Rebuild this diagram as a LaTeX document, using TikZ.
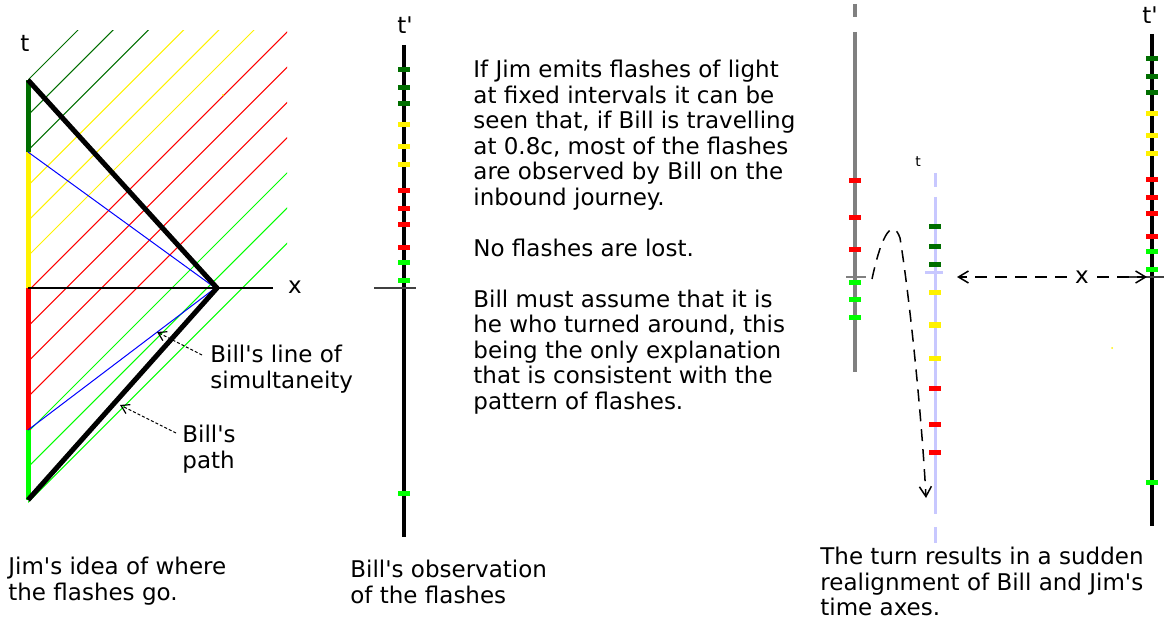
\documentclass[tikz,border=0pt]{standalone}
\usepackage{fontspec}
\usetikzlibrary{arrows.meta}
\setmainfont{DejaVu Sans}[Ligatures=TeXOff]
\definecolor{dkgreen}{RGB}{0,110,0}
\definecolor{ltgreen}{RGB}{0,255,0}
\definecolor{axgray}{RGB}{128,128,128}
\definecolor{axblue}{RGB}{200,200,255}

\begin{document}
\begin{tikzpicture}[x=0.5pt,y=-0.5pt,
    txt/.style={inner sep=0pt, align=left, anchor=north west},
    lbl/.style={inner sep=0pt},
    ptr/.style={-{Straight Barb[length=4pt,width=5pt,line width=0.6pt]}, line width=0.5pt, dash pattern=on 1.5pt off 1pt},
    longdash/.style={-{Straight Barb[length=5pt,width=6pt]}, line width=0.75pt, dash pattern=on 6pt off 4pt},
    flash/.style={line width=2.5pt},
    font=\fontsize{11.5}{12.75}\selectfont]
  \useasboundingbox (0,0) rectangle (1176,630);

  % Jim's idea of where the flashes go
  \begin{scope}
    \clip (28,31) rectangle (287,505);
    \foreach \k/\c in {0/dkgreen,1/dkgreen,2/dkgreen,3/yellow,4/yellow,5/yellow,
                       6/red,7/red,8/red,9/red,10/ltgreen,11/ltgreen,12/ltgreen}
      \draw[\c, line width=0.5pt] (28,80+35.2*\k) -- ++(520,-520);
  \end{scope}
  \fill[yellow] (223,95) circle (1);
  \draw[dkgreen, line width=2.5pt] (28,80) -- (28,152);
  \draw[yellow, line width=2.5pt] (28,152) -- (28,288);
  \draw[red, line width=2.5pt] (28,288) -- (28,430);
  \draw[ltgreen, line width=2.5pt] (28,430) -- (28,500);
  \draw[line width=0.75pt] (28,288) -- (273,288);
  \draw[blue, line width=0.5pt] (28,152) -- (214,287);
  \draw[blue, line width=0.5pt] (28,430) -- (214,289);
  \draw[line width=2.5pt, line join=round] (28,80) -- (217,288) -- (28,500);
  \node[lbl] (tjim) at (25,43) {t};
  \node[lbl] (xjim) at (295,287) {x};
  \node[txt] (simlab) at (210,345) {Bill's line of\\simultaneity};
  \node[txt] (pathlab) at (182,425) {Bill's\\path};
  \coordinate (simtip) at (157,332);
  \coordinate (pathtip) at (120,405);
  \draw[ptr] ([xshift=-4pt,yshift=-5pt]simlab.north west) -- (simtip);
  \draw[ptr] ([xshift=-3pt,yshift=-4pt]pathlab.north west) -- (pathtip);
  \node[txt] (capjim) at (8,557) {Jim's idea of where\\the flashes go.};

  % Bill's observation
  \draw[line width=2pt] (404,45) -- (404,537);
  \draw[darkgray, line width=1pt] (374,288) -- (416,288);
  \foreach \y/\c in {70/dkgreen,88/dkgreen,104/dkgreen,125/yellow,147/yellow,165/yellow,
                     191/red,209/red,225/red,248/red,263/ltgreen,281/ltgreen,493/ltgreen}
    \draw[\c, flash] (398,\y) -- (410,\y);
  \node[lbl] (tbill) at (405,25) {t'};
  \node[txt] (capbill) at (350,560) {Bill's observation\\of the flashes};

  \node[txt] (story) at (473,60) {If Jim emits flashes of light\\
    at fixed intervals it can be\\
    seen that, if Bill is travelling\\
    at 0.8c, most of the flashes\\
    are observed by Bill on the\\
    inbound journey.\\[12.75pt]
    No flashes are lost.\\[12.75pt]
    Bill must assume that it is\\
    he who turned around, this\\
    being the only explanation\\
    that is consistent with the\\
    pattern of flashes.};

  % the turn
  \draw[axgray, line width=2pt] (855,4) -- (855,17);
  \draw[axgray, line width=2pt] (855,32) -- (855,372);
  \draw[axgray, line width=1pt] (846,277) -- (866,277);
  \foreach \y/\c in {181/red,218/red,250/red,283/ltgreen,300/ltgreen,318/ltgreen}
    \draw[\c, flash] (849,\y) -- (861,\y);

  \draw[axblue, line width=1.5pt] (935,173) -- (935,187);
  \draw[axblue, line width=1.5pt] (935,197) -- (935,514);
  \draw[axblue, line width=1.5pt] (935,527) -- (935,543);
  \draw[axblue, line width=1.5pt] (925,273) -- (943,273);
  \foreach \y/\c in {227/dkgreen,247/dkgreen,265/dkgreen,293/yellow,325/yellow,358/yellow,
                     388/red,424/red,452/red}
    \draw[\c, flash] (929,\y) -- (941,\y);
  \node[lbl, font=\fontsize{7}{8}\selectfont] (tsmall) at (918,162) {t};

  \coordinate (turnA) at (872,279);
  \coordinate (turnB) at (926,498);
  \draw[longdash] (turnA) .. controls (882,232) and (893,218) .. (900,238)
    .. controls (910,300) and (922,420) .. (turnB);

  \draw[line width=2pt] (1152,34) -- (1152,526);
  \draw[darkgray, line width=1pt] (1122,277) -- (1164,277);
  \foreach \y/\c in {59/dkgreen,77/dkgreen,93/dkgreen,114/yellow,136/yellow,154/yellow,
                     180/red,198/red,214/red,237/red,252/ltgreen,270/ltgreen,482/ltgreen}
    \draw[\c, flash] (1146,\y) -- (1158,\y);
  \fill[yellow] (1112,348) circle (1);
  \node[lbl] (tright) at (1150,15) {t'};
  \node[lbl, inner sep=4pt] (xright) at (1082,277) {x};
  \coordinate (jimaxis) at (957,277);
  \coordinate (billaxis) at (1147,277);
  \draw[longdash] (xright) -- (jimaxis);
  \draw[longdash] (xright) -- (billaxis);
  \node[txt] (capturn) at (820,547) {The turn results in a sudden\\
    realignment of Bill and Jim's\\
    time axes.};
\end{tikzpicture}
\end{document}
